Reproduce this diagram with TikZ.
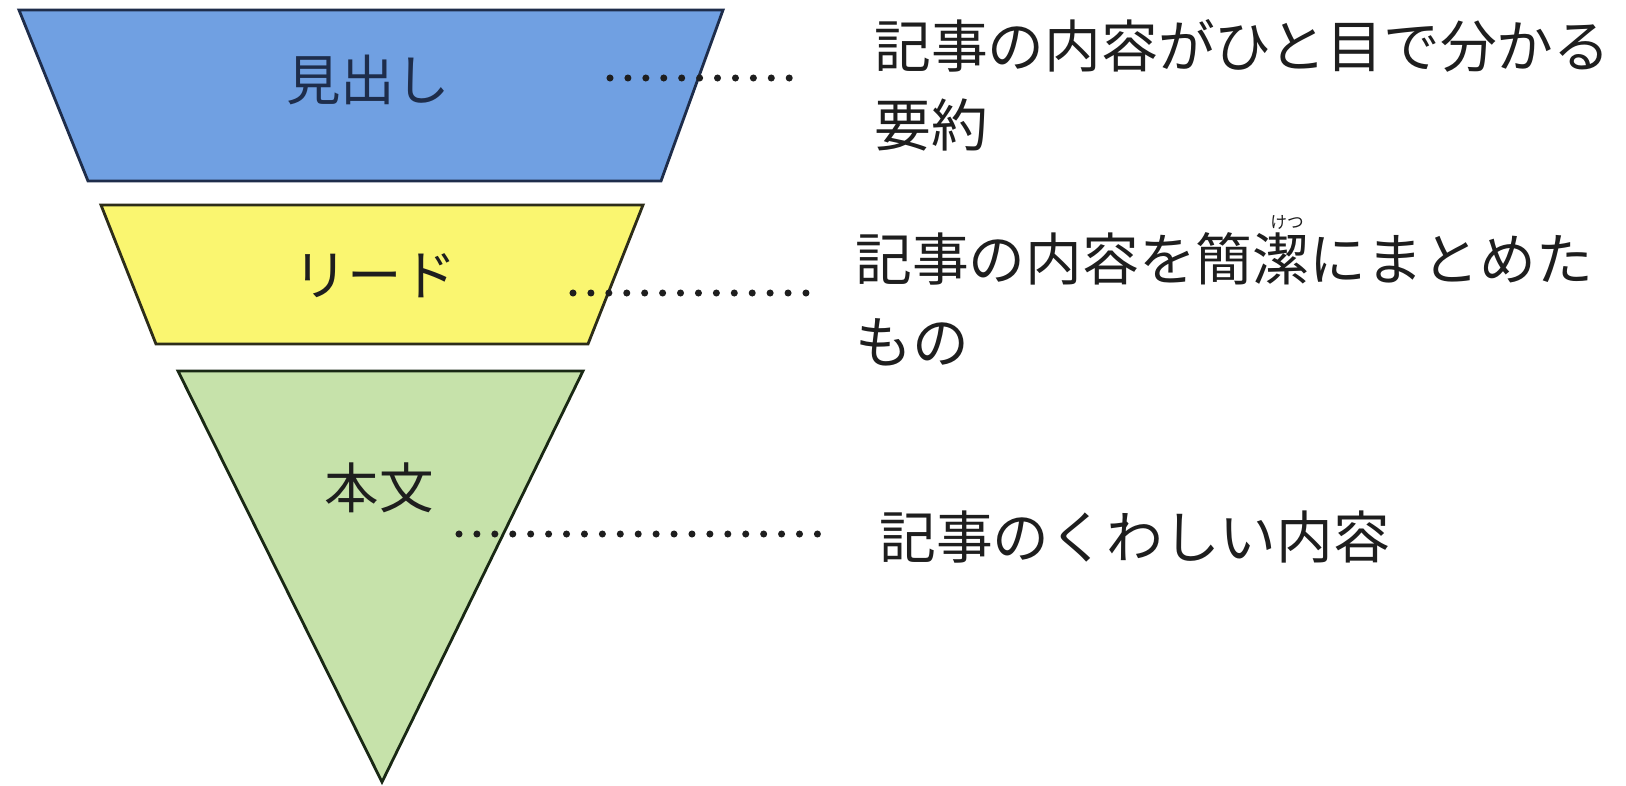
\documentclass[tikz,border=0pt]{standalone}
\usepackage{fontspec}
\newfontfamily\jp{Noto Sans CJK JP}
\definecolor{bluefill}{RGB}{112,160,226}
\definecolor{blueline}{RGB}{30,45,75}
\definecolor{yelfill}{RGB}{250,246,112}
\definecolor{yelline}{RGB}{45,45,25}
\definecolor{grnfill}{RGB}{198,226,170}
\definecolor{grnline}{RGB}{25,40,20}
\definecolor{ink}{RGB}{30,30,30}
\begin{document}
\begin{tikzpicture}[x=0.02cm,y=-0.02cm,
  shapeline/.style={line width=1.6pt, line join=miter},
  leader/.style={line width=4pt, line cap=round, dash pattern=on 0pt off 10.2pt, color=ink},
  lab/.style={inner sep=0pt, font=\jp\fontsize{31pt}{38pt}\selectfont, text=ink},
  desc/.style={inner sep=0pt, anchor=west, font=\jp\fontsize{32.3pt}{40pt}\selectfont, text=ink},
  ruby/.style={inner sep=0pt, font=\jp\fontsize{9.5pt}{11pt}\selectfont, text=ink}]
\useasboundingbox (0,0) rectangle (1626,785);
\fill[white] (0,0) rectangle (1626,785);
% shapes
\draw[shapeline, fill=bluefill, draw=blueline] (19,10) -- (723,10) -- (661,181) -- (88,181) -- cycle;
\draw[shapeline, fill=yelfill, draw=yelline] (101,205) -- (643,205) -- (588,344) -- (156,344) -- cycle;
\draw[shapeline, fill=grnfill, draw=grnline] (178,371) -- (583,371) -- (382,782) -- cycle;
% labels in shapes
\node[lab, text=blueline] (midashi) at (368,80) {見出し};
\node[lab] (lead) at (375,276) {リード};
\node[lab] (honbun) at (379,488) {本文};
% leaders
\coordinate (l1s) at (610,78);
\coordinate (l1e) at (790,78);
\coordinate (l2s) at (573,293);
\coordinate (l2e) at (814,293);
\coordinate (l3s) at (459,534);
\coordinate (l3e) at (830,534);
\draw[leader] (l1s) -- (l1e);
\draw[leader] (l2s) -- (l2e);
\draw[leader] (l3s) -- (l3e);
% descriptions
\node[desc] (d1a) at (874,46) {記事の内容がひと目で分かる};
\node[desc] (d1b) at (874,125) {要約};
\node[desc] (d2a) at (855,259) {記事の内容を簡潔にまとめた};
\node[desc] (d2b) at (855,342) {もの};
\node[ruby] (ruby) at (1287,222) {けつ};
\node[desc] (d3) at (879,537) {記事のくわしい内容};
\end{tikzpicture}
\end{document}
